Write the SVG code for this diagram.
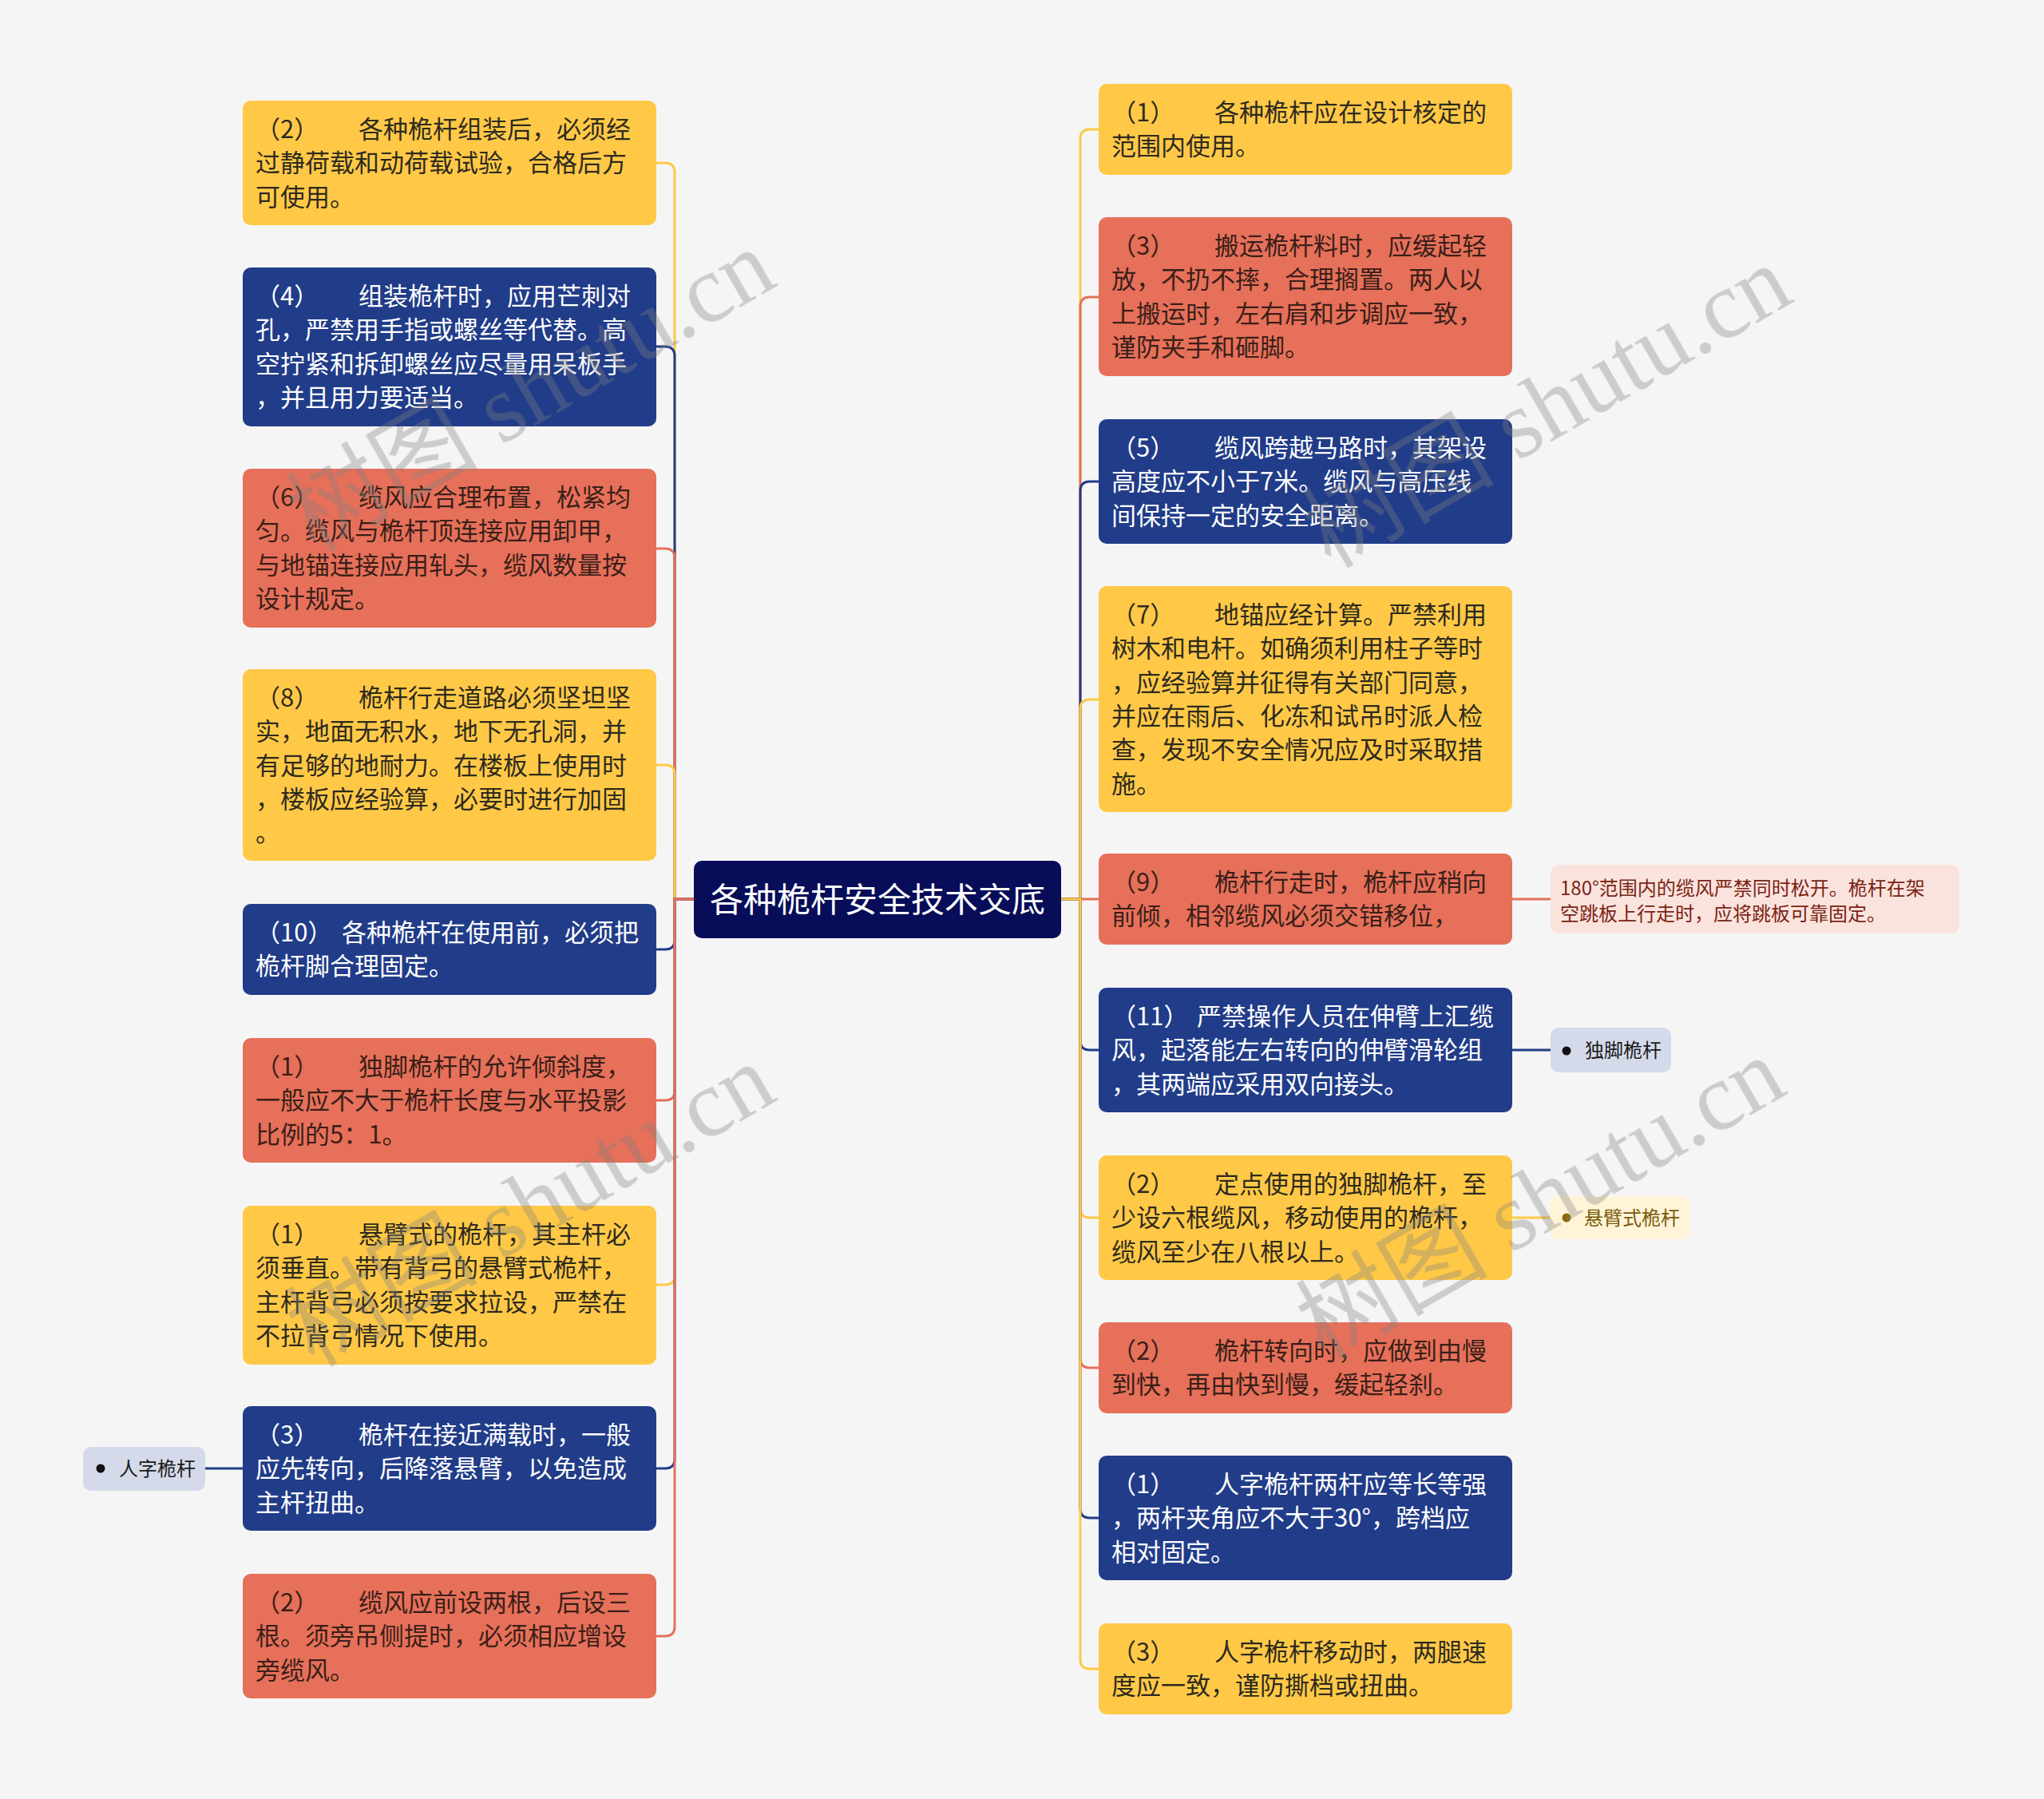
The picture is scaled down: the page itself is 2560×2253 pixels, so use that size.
<svg xmlns="http://www.w3.org/2000/svg" width="2560" height="2253" viewBox="0 0 2560 2253">
<defs>
<style>
.t{font-family:"Noto Sans CJK SC","Noto Sans",sans-serif;font-size:31px}
.lf{font-family:"Noto Sans CJK SC","Noto Sans",sans-serif;font-size:24px}
.dk{fill:#2e2a1e}
.rd{fill:#3a1f18}
.wh{fill:#ffffff}
.y{fill:#FFC947}
.r{fill:#E6705A}
.b{fill:#213C88}
.c{fill:none;stroke-width:3}
.cy{stroke:#FFC947}
.cr{stroke:#E6705A}
.cb{stroke:#213C88}
.wm{font-family:"Liberation Serif","Noto Sans CJK SC",serif;font-size:120px;fill:#808080;opacity:.35}
</style>
</defs>
<rect width="2560" height="2253" fill="#F5F5F5"/>
<g id="connectors">
<path class="c cy" d="M869 1126H845V216Q845 204 833 204H822"/>
<path class="c cb" d="M869 1126H845V446Q845 434 833 434H822"/>
<path class="c cr" d="M869 1126H845V699Q845 687 833 687H822"/>
<path class="c cy" d="M869 1126H845V970Q845 958 833 958H822"/>
<path class="c cb" d="M869 1126H845V1177Q845 1189 833 1189H822"/>
<path class="c cr" d="M869 1126H845V1366Q845 1378 833 1378H822"/>
<path class="c cy" d="M869 1126H845V1597Q845 1609 833 1609H822"/>
<path class="c cb" d="M869 1126H845V1827Q845 1839 833 1839H822"/>
<path class="c cr" d="M869 1126H845V2037Q845 2049 833 2049H822"/>
<path class="c cy" d="M1329 1126H1353V174Q1353 162 1365 162H1376"/>
<path class="c cr" d="M1329 1126H1353V384Q1353 372 1365 372H1376"/>
<path class="c cb" d="M1329 1126H1353V615Q1353 603 1365 603H1376"/>
<path class="c cy" d="M1329 1126H1353V888Q1353 876 1365 876H1376"/>
<path class="c cr" d="M1329 1126H1376"/>
<path class="c cb" d="M1329 1126H1353V1303Q1353 1315 1365 1315H1376"/>
<path class="c cy" d="M1329 1126H1353V1513Q1353 1525 1365 1525H1376"/>
<path class="c cr" d="M1329 1126H1353V1701Q1353 1713 1365 1713H1376"/>
<path class="c cb" d="M1329 1126H1353V1889Q1353 1901 1365 1901H1376"/>
<path class="c cy" d="M1329 1126H1353V2078Q1353 2090 1365 2090H1376"/>
<path class="c cr" d="M1894 1126H1942"/>
<path class="c cb" d="M1894 1315H1942"/>
<path class="c cy" d="M1894 1525H1941"/>
<path class="c cb" d="M257 1839H304"/>
</g>
<g id="center">
<rect x="869" y="1078" width="460" height="97" rx="10" fill="#070D58"/>
<text x="1099" y="1142" text-anchor="middle" font-family="Noto Sans CJK SC, Noto Sans, sans-serif" font-size="42" fill="#ffffff">各种桅杆安全技术交底</text>
</g>
<g id="L1">
<rect class="y" x="304" y="126" width="518" height="156" rx="10"/>
<text class="t dk"><tspan x="320" y="173">（2）</tspan><tspan x="449">各种桅杆组装后，必须经</tspan><tspan x="320" dy="42.3">过静荷载和动荷载试验，合格后方</tspan><tspan x="320" dy="42.3">可使用。</tspan></text>
</g>
<g id="L2">
<rect class="b" x="304" y="335" width="518" height="199" rx="10"/>
<text class="t wh"><tspan x="320" y="382">（4）</tspan><tspan x="449">组装桅杆时，应用芒刺对</tspan><tspan x="320" dy="42.3">孔，严禁用手指或螺丝等代替。高</tspan><tspan x="320" dy="42.3">空拧紧和拆卸螺丝应尽量用呆板手</tspan><tspan x="320" dy="42.3">，并且用力要适当。</tspan></text>
</g>
<g id="L3">
<rect class="r" x="304" y="587" width="518" height="199" rx="10"/>
<text class="t rd"><tspan x="320" y="634">（6）</tspan><tspan x="449">缆风应合理布置，松紧均</tspan><tspan x="320" dy="42.3">匀。缆风与桅杆顶连接应用卸甲，</tspan><tspan x="320" dy="42.3">与地锚连接应用轧头，缆风数量按</tspan><tspan x="320" dy="42.3">设计规定。</tspan></text>
</g>
<g id="L4">
<rect class="y" x="304" y="838" width="518" height="240" rx="10"/>
<text class="t dk"><tspan x="320" y="885">（8）</tspan><tspan x="449">桅杆行走道路必须坚坦坚</tspan><tspan x="320" dy="42.3">实，地面无积水，地下无孔洞，并</tspan><tspan x="320" dy="42.3">有足够的地耐力。在楼板上使用时</tspan><tspan x="320" dy="42.3">，楼板应经验算，必要时进行加固</tspan><tspan x="320" dy="42.3">。</tspan></text>
</g>
<g id="L5">
<rect class="b" x="304" y="1132" width="518" height="114" rx="10"/>
<text class="t wh"><tspan x="320" y="1179">（10）</tspan><tspan x="428">各种桅杆在使用前，必须把</tspan><tspan x="320" dy="42.3">桅杆脚合理固定。</tspan></text>
</g>
<g id="L6">
<rect class="r" x="304" y="1300" width="518" height="156" rx="10"/>
<text class="t rd"><tspan x="320" y="1347">（1）</tspan><tspan x="449">独脚桅杆的允许倾斜度，</tspan><tspan x="320" dy="42.3">一般应不大于桅杆长度与水平投影</tspan><tspan x="320" dy="42.3">比例的5：1。</tspan></text>
</g>
<g id="L7">
<rect class="y" x="304" y="1510" width="518" height="199" rx="10"/>
<text class="t dk"><tspan x="320" y="1557">（1）</tspan><tspan x="449">悬臂式的桅杆，其主杆必</tspan><tspan x="320" dy="42.3">须垂直。带有背弓的悬臂式桅杆，</tspan><tspan x="320" dy="42.3">主杆背弓必须按要求拉设，严禁在</tspan><tspan x="320" dy="42.3">不拉背弓情况下使用。</tspan></text>
</g>
<g id="L8">
<rect class="b" x="304" y="1761" width="518" height="156" rx="10"/>
<text class="t wh"><tspan x="320" y="1808">（3）</tspan><tspan x="449">桅杆在接近满载时，一般</tspan><tspan x="320" dy="42.3">应先转向，后降落悬臂，以免造成</tspan><tspan x="320" dy="42.3">主杆扭曲。</tspan></text>
</g>
<g id="L9">
<rect class="r" x="304" y="1971" width="518" height="156" rx="10"/>
<text class="t rd"><tspan x="320" y="2018">（2）</tspan><tspan x="449">缆风应前设两根，后设三</tspan><tspan x="320" dy="42.3">根。须旁吊侧提时，必须相应增设</tspan><tspan x="320" dy="42.3">旁缆风。</tspan></text>
</g>
<g id="leaf-renzi">
<rect x="104" y="1812" width="153" height="55" rx="10" fill="#D5DAEA"/>
<circle cx="126" cy="1839" r="5.5" fill="#111111"/>
<text class="lf" x="149" y="1848" fill="#1a1a1a">人字桅杆</text>
</g>
<g id="R1">
<rect class="y" x="1376" y="105" width="518" height="114" rx="10"/>
<text class="t dk"><tspan x="1392" y="152">（1）</tspan><tspan x="1521">各种桅杆应在设计核定的</tspan><tspan x="1392" dy="42.3">范围内使用。</tspan></text>
</g>
<g id="R2">
<rect class="r" x="1376" y="272" width="518" height="199" rx="10"/>
<text class="t rd"><tspan x="1392" y="319">（3）</tspan><tspan x="1521">搬运桅杆料时，应缓起轻</tspan><tspan x="1392" dy="42.3">放，不扔不摔，合理搁置。两人以</tspan><tspan x="1392" dy="42.3">上搬运时，左右肩和步调应一致，</tspan><tspan x="1392" dy="42.3">谨防夹手和砸脚。</tspan></text>
</g>
<g id="R3">
<rect class="b" x="1376" y="525" width="518" height="156" rx="10"/>
<text class="t wh"><tspan x="1392" y="572">（5）</tspan><tspan x="1521">缆风跨越马路时，其架设</tspan><tspan x="1392" dy="42.3">高度应不小于7米。缆风与高压线</tspan><tspan x="1392" dy="42.3">间保持一定的安全距离。</tspan></text>
</g>
<g id="R4">
<rect class="y" x="1376" y="734" width="518" height="283" rx="10"/>
<text class="t dk"><tspan x="1392" y="781">（7）</tspan><tspan x="1521">地锚应经计算。严禁利用</tspan><tspan x="1392" dy="42.3">树木和电杆。如确须利用柱子等时</tspan><tspan x="1392" dy="42.3">，应经验算并征得有关部门同意，</tspan><tspan x="1392" dy="42.3">并应在雨后、化冻和试吊时派人检</tspan><tspan x="1392" dy="42.3">查，发现不安全情况应及时采取措</tspan><tspan x="1392" dy="42.3">施。</tspan></text>
</g>
<g id="R5">
<rect class="r" x="1376" y="1069" width="518" height="114" rx="10"/>
<text class="t rd"><tspan x="1392" y="1116">（9）</tspan><tspan x="1521">桅杆行走时，桅杆应稍向</tspan><tspan x="1392" dy="42.3">前倾，相邻缆风必须交错移位，</tspan></text>
</g>
<g id="R6">
<rect class="b" x="1376" y="1237" width="518" height="156" rx="10"/>
<text class="t wh"><tspan x="1392" y="1284">（11）</tspan><tspan x="1499">严禁操作人员在伸臂上汇缆</tspan><tspan x="1392" dy="42.3">风，起落能左右转向的伸臂滑轮组</tspan><tspan x="1392" dy="42.3">，其两端应采用双向接头。</tspan></text>
</g>
<g id="R7">
<rect class="y" x="1376" y="1447" width="518" height="156" rx="10"/>
<text class="t dk"><tspan x="1392" y="1494">（2）</tspan><tspan x="1521">定点使用的独脚桅杆，至</tspan><tspan x="1392" dy="42.3">少设六根缆风，移动使用的桅杆，</tspan><tspan x="1392" dy="42.3">缆风至少在八根以上。</tspan></text>
</g>
<g id="R8">
<rect class="r" x="1376" y="1656" width="518" height="114" rx="10"/>
<text class="t rd"><tspan x="1392" y="1703">（2）</tspan><tspan x="1521">桅杆转向时，应做到由慢</tspan><tspan x="1392" dy="42.3">到快，再由快到慢，缓起轻刹。</tspan></text>
</g>
<g id="R9">
<rect class="b" x="1376" y="1823" width="518" height="156" rx="10"/>
<text class="t wh"><tspan x="1392" y="1870">（1）</tspan><tspan x="1521">人字桅杆两杆应等长等强</tspan><tspan x="1392" dy="42.3">，两杆夹角应不大于30°，跨档应</tspan><tspan x="1392" dy="42.3">相对固定。</tspan></text>
</g>
<g id="R10">
<rect class="y" x="1376" y="2033" width="518" height="114" rx="10"/>
<text class="t dk"><tspan x="1392" y="2080">（3）</tspan><tspan x="1521">人字桅杆移动时，两腿速</tspan><tspan x="1392" dy="42.3">度应一致，谨防撕档或扭曲。</tspan></text>
</g>
<g id="leaf-180">
<rect x="1942" y="1083" width="512" height="86" rx="10" fill="#FBE3DD"/>
<text class="lf" font-size="25" fill="#7a2414"><tspan x="1954" y="1121">180°范围内的缆风严禁同时松开。桅杆在架</tspan><tspan x="1954" dy="31.7">空跳板上行走时，应将跳板可靠固定。</tspan></text>
</g>
<g id="leaf-dujiao">
<rect x="1942" y="1287" width="151" height="56" rx="10" fill="#D5DAEA"/>
<circle cx="1962" cy="1316" r="5.5" fill="#111111"/>
<text class="lf" x="1985" y="1324" fill="#1a1a1a">独脚桅杆</text>
</g>
<g id="leaf-xuanbi">
<rect x="1941" y="1498" width="176" height="54" rx="10" fill="#FFF4D8"/>
<circle cx="1962" cy="1525" r="5.5" fill="#8a6a10"/>
<text class="lf" x="1984" y="1534" fill="#7a5a0a">悬臂式桅杆</text>
</g>
<g id="watermark" class="wm">
<text transform="translate(665,490) rotate(-30)" text-anchor="middle" y="40">树图 shutu.cn</text>
<text transform="translate(1938,510) rotate(-30)" text-anchor="middle" y="40">树图 shutu.cn</text>
<text transform="translate(665,1510) rotate(-30)" text-anchor="middle" y="40">树图 shutu.cn</text>
<text transform="translate(1930,1502) rotate(-30)" text-anchor="middle" y="40">树图 shutu.cn</text>
</g>
</svg>
